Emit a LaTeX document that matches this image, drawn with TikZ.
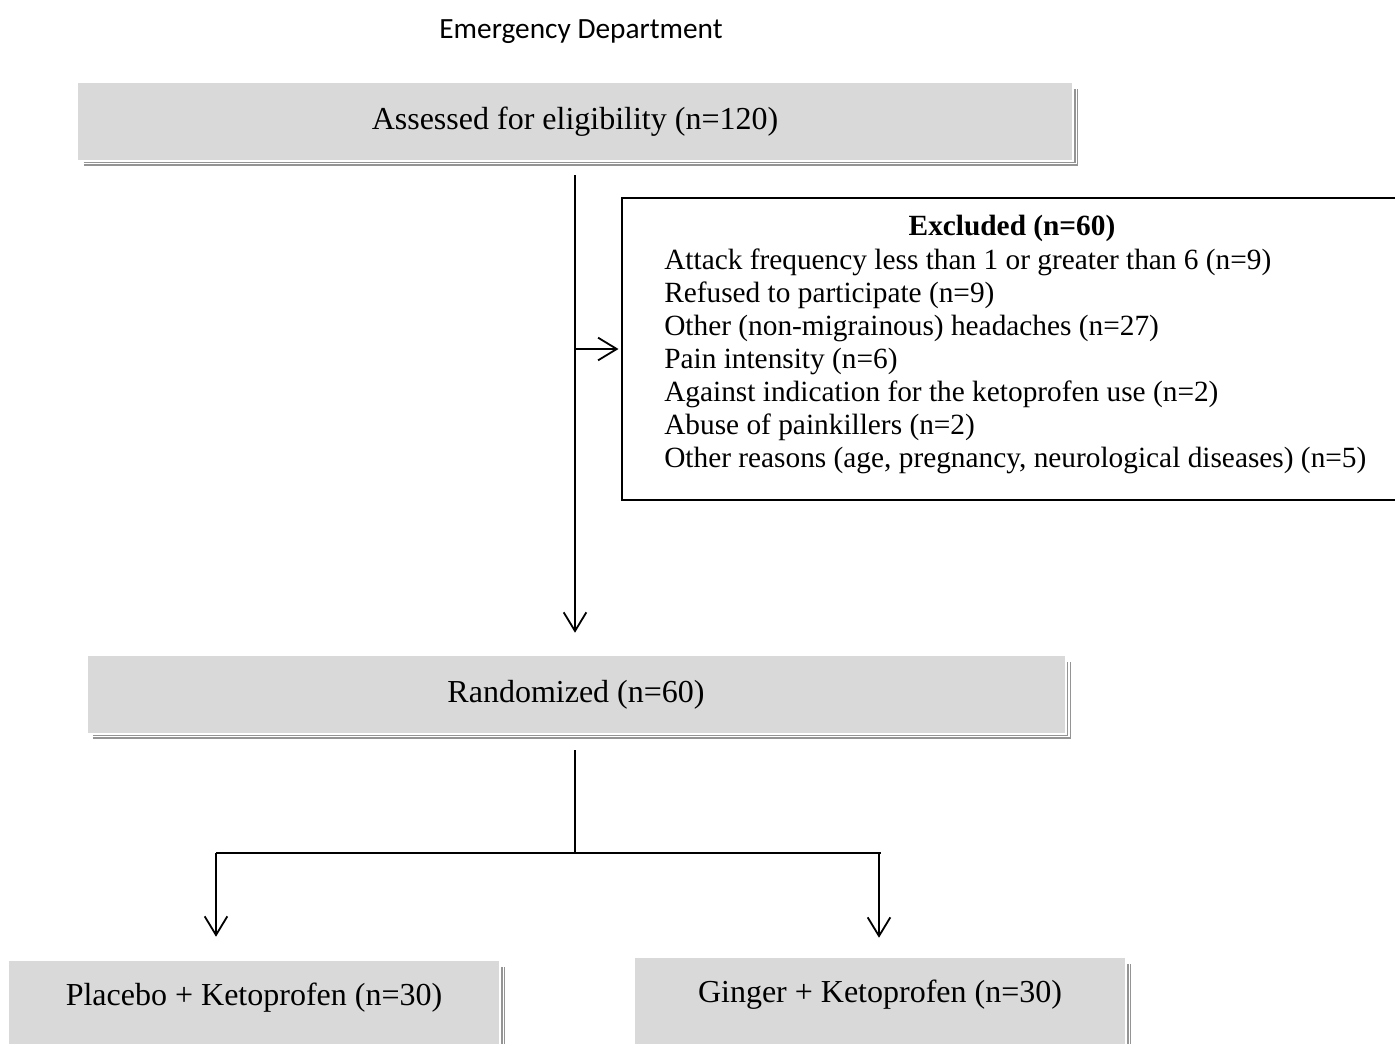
\documentclass[tikz,border=0pt]{standalone}
\usepackage{fontspec}
\setmainfont{Liberation Serif}
\newfontfamily\titlefont{Carlito}
\usepackage{tikz}
\usetikzlibrary{arrows.meta}
\usetikzlibrary{calc}
\definecolor{boxgray}{gray}{0.85}
\definecolor{shadowgray}{gray}{0.58}
\tikzstyle{block} = [fill=boxgray, rectangle, inner sep=0pt,
    font=\fontsize{24}{29}\selectfont]
\tikzstyle{wideblock} = [block, minimum height=57.75pt]
\tikzstyle{armblock} = [block, minimum width=367.5pt, text height=33pt, text depth=45pt]
\tikzstyle{exbox} = [draw, line width=0.8pt, rectangle,
    minimum width=583.5pt, minimum height=226.5pt]
\tikzstyle{extext} = [font=\fontsize{22}{24.75}\selectfont, inner sep=0pt]
\tikzstyle{line} = [draw, line width=1.35pt]
\tikzstyle{arrow} = [line, -{Straight Barb[length=14pt,width=17pt]}]
\tikzstyle{shadow} = [draw=shadowgray, line width=1pt, double=white, double distance=1.1pt]
\newcommand{\boxshadow}[1]{\draw[shadow] ([xshift=4.5pt,yshift=-2.6pt]#1.south west)
    -| ([xshift=3pt,yshift=-4.5pt]#1.north east);}

\begin{document}
\begin{tikzpicture}[x=0.75pt, y=-0.75pt]
    \useasboundingbox (0,0) rectangle (1395,1043);
    % We start by placing the blocks
    \node [font=\titlefont\fontsize{22}{26}\selectfont, anchor=base] (title) at (581,38) {Emergency Department};
    \node [wideblock, minimum width=745.5pt] (assess) at (575,121.5) {Assessed for eligibility (n=120)};
    \node [exbox] (excl) at (1011,349) {};
    \node [extext, font={\fontsize{22}{24.75}\selectfont\bfseries}, anchor=base] (exhead) at (1012,235) {Excluded (n=60)};
    \foreach \reason [count=\i] in {{Attack frequency less than 1 or greater than 6 (n=9)},
        {Refused to participate (n=9)}, {Other (non-migrainous) headaches (n=27)},
        {Pain intensity (n=6)}, {Against indication for the ketoprofen use (n=2)},
        {Abuse of painkillers (n=2)}, {Other reasons (age, pregnancy, neurological diseases) (n=5)}}
        \node [extext, anchor=base west] (ex\i) at (664,{236+33*\i}) {\reason};
    \node [wideblock, minimum width=732.75pt] (random) at (576,694.5) {Randomized (n=60)};
    \node [armblock, anchor=base] (placebo) at (254,1005) {Placebo + Ketoprofen (n=30)};
    \node [armblock, anchor=base] (ginger) at (880,1002) {Ginger + Ketoprofen (n=30)};
    \boxshadow{assess}
    \boxshadow{random}
    \boxshadow{placebo}
    \boxshadow{ginger}

    % Once the nodes are placed, connecting them is easy.
    \coordinate (split) at (575,853);
    \coordinate (lbranch) at (216,853);
    \coordinate (rbranch) at (879,853);
    \draw [arrow, shorten <=11.25pt, shorten >=17.25pt] (assess.south) -- (assess.south |- random.north);
    \draw [arrow, shorten >=2.25pt] (assess.south |- excl.west) -- (excl.west);
    \draw [line, shorten <=12.75pt] (split |- random.south) -- (split);
    \draw [line] (lbranch) -- ([xshift=1.5pt]rbranch);
    \draw [arrow, shorten >=18pt] (lbranch) -- (lbranch |- placebo.north);
    \draw [arrow, shorten >=15pt] (rbranch) -- (rbranch |- ginger.north);
\end{tikzpicture}
\end{document}
